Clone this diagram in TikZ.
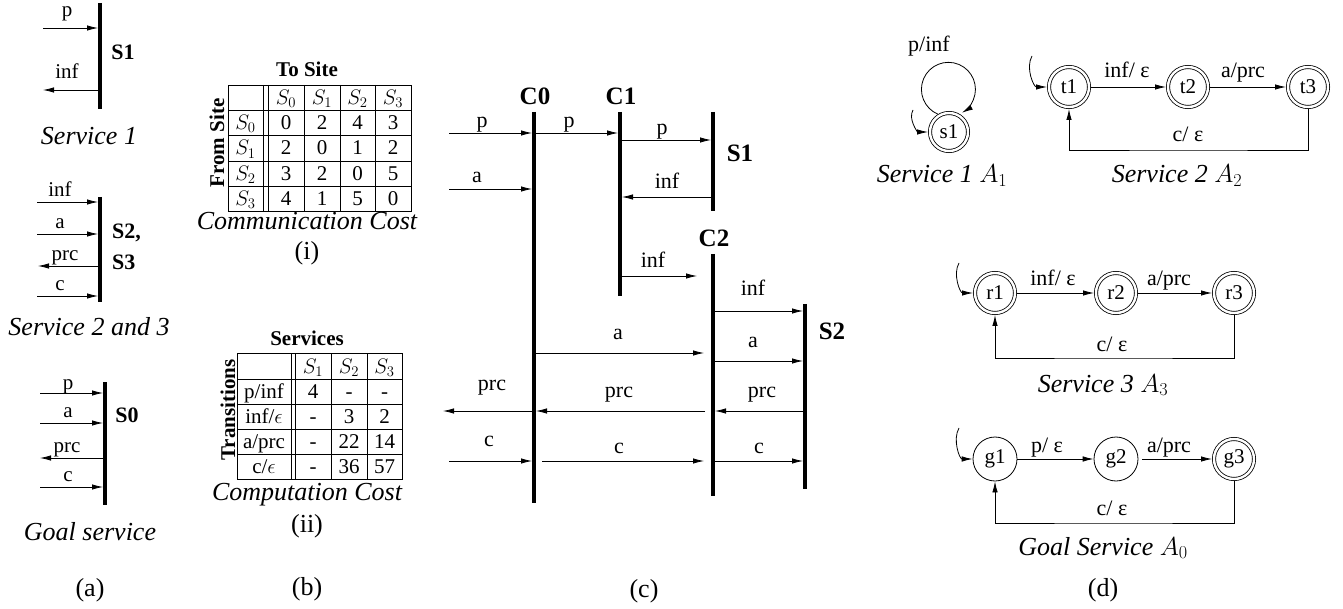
\RequirePackage{fix-cm}
\documentclass[tikz,border=0pt]{standalone}
\usepackage{fontspec}
\setmainfont{Liberation Serif}
\usetikzlibrary{arrows.meta}
\begin{document}
\begin{tikzpicture}[x=1pt,y=1pt,
 arr/.style={-{Latex[length=11pt,width=5.5pt]}, line width=0.8pt},
 tobar/.style={shorten >=2pt},
 vbar/.style={line width=4pt},
 tline/.style={line width=0.8pt},
 lab/.style={font=\fontsize{21}{24}\selectfont, inner sep=0pt, anchor=base},
 clab/.style={font=\fontsize{22}{26}\selectfont, inner sep=0pt, anchor=base},
 ablab/.style={font=\bfseries\fontsize{22}{26}\selectfont, inner sep=0pt, anchor=base},
 blab/.style={font=\bfseries\fontsize{25}{29}\selectfont, inner sep=0pt, anchor=base},
 capt/.style={font=\itshape\fontsize{26}{30}\selectfont, inner sep=0pt, anchor=base},
 sublab/.style={font=\fontsize{26}{30}\selectfont, inner sep=0pt, anchor=base},
 tcell/.style={font=\fontsize{21}{24}\selectfont, inner sep=0pt, text height=16pt, text depth=2pt},
 thead/.style={font=\bfseries\fontsize{21}{24}\selectfont, inner sep=0pt},
 st/.style={circle, draw, line width=0.8pt, minimum size=44pt, inner sep=0pt, font=\fontsize{21}{24}\selectfont},
 acc/.style={st, double, double distance=2.4pt, minimum size=40pt, outer sep=2pt},
]
\useasboundingbox (0,0) rectangle (1343,-609);

% ---------------- (a) ----------------
\coordinate (a1t) at (100,-3); \coordinate (a1b) at (100,-109);
\draw[vbar] (a1t) -- (a1b);
\coordinate (a1p) at (43,-28); \coordinate (a1i) at (43,-90);
\draw[arr,tobar] (a1p) -- (a1p -| a1t);
\draw[arr] (a1i -| a1t) -- (a1i);
\node[lab] (a1pl) at (67,-17) {p};
\node[lab] (a1il) at (67,-79) {inf};
\node[ablab] (a1n) at (123,-60) {S1};
\node[capt] (a1c) at (89,-145) {Service 1};

\coordinate (a2t) at (100,-197); \coordinate (a2b) at (100,-302);
\draw[vbar] (a2t) -- (a2b);
\coordinate (a2i) at (37,-202); \coordinate (a2a) at (37,-234);
\coordinate (a2p) at (38,-266); \coordinate (a2c) at (37,-296);
\draw[arr,tobar] (a2i) -- (a2i -| a2t);
\draw[arr,tobar] (a2a) -- (a2a -| a2t);
\draw[arr] (a2p -| a2t) -- (a2p);
\draw[arr,tobar] (a2c) -- (a2c -| a2t);
\node[lab] (a2il) at (60,-197) {inf};
\node[lab] (a2al) at (60,-229) {a};
\node[lab] (a2pl) at (65,-261) {prc};
\node[lab] (a2cl) at (60,-291) {c};
\node[ablab, anchor=base west] (a2n1) at (112,-239) {S2,};
\node[ablab, anchor=base west] (a2n2) at (112,-270) {S3};
\node[capt] (a2cap) at (89,-336) {Service 2 and 3};

\coordinate (a0t) at (105,-382); \coordinate (a0b) at (105,-505);
\draw[vbar] (a0t) -- (a0b);
\coordinate (a0p) at (40,-393); \coordinate (a0a) at (40,-423);
\coordinate (a0r) at (40,-458); \coordinate (a0c) at (40,-487);
\draw[arr,tobar] (a0p) -- (a0p -| a0t);
\draw[arr,tobar] (a0a) -- (a0a -| a0t);
\draw[arr] (a0r -| a0t) -- (a0r);
\draw[arr,tobar] (a0c) -- (a0c -| a0t);
\node[lab] (a0pl) at (68,-389) {p};
\node[lab] (a0al) at (68,-417) {a};
\node[lab] (a0rl) at (67,-452) {prc};
\node[lab] (a0cl) at (68,-481) {c};
\node[ablab] (a0n) at (127,-422) {S0};
\node[capt] (a0cap) at (90,-540) {Goal service};
\node[sublab] (alab) at (90,-596) {(a)};

% ---------------- (b) ----------------
% communication cost table
\draw[tline] (228,-85) rectangle (411,-211);
\foreach \yy in {110,135,161,186} \draw[tline] (228,-\yy) -- (411,-\yy);
\foreach \xx in {263,268,304,340,375} \draw[tline] (\xx,-85) -- (\xx,-211);
\node[tcell] (h1) at (286,-97.5) {$S_0$};
\node[tcell] (h2) at (322,-97.5) {$S_1$};
\node[tcell] (h3) at (357.5,-97.5) {$S_2$};
\node[tcell] (h4) at (393,-97.5) {$S_3$};
\node[tcell] (r1l) at (245.5,-122.5) {$S_0$};
\node[tcell] (r2l) at (245.5,-148) {$S_1$};
\node[tcell] (r3l) at (245.5,-173.5) {$S_2$};
\node[tcell] (r4l) at (245.5,-198.5) {$S_3$};
\foreach \vals [count=\r] in {{0,2,4,3},{2,0,1,2},{3,2,0,5},{4,1,5,0}} {
  \foreach \v [count=\c] in \vals {
    \pgfmathsetmacro{\cx}{{250.5,286,322,357.5,393}[\c]}
    \pgfmathsetmacro{\cy}{{97.5,122.5,148,173.5,198.5}[\r]}
    \node[tcell] (cc\r\c) at (\cx,-\cy) {\v};
  }
}
\node[thead, anchor=base] (tosite) at (307,-77) {To Site};
\node[thead, rotate=90] (fromsite) at (217,-143) {From Site};
\node[capt] (commcap) at (307,-230) {Communication Cost};
\node[sublab] (ilab) at (307,-260) {(i)};

% computation cost table
\draw[tline] (237,-353) rectangle (402,-479);
\foreach \yy in {379,404,429,454} \draw[tline] (237,-\yy) -- (402,-\yy);
\foreach \xx in {291,295,331,367} \draw[tline] (\xx,-353) -- (\xx,-479);
\node[tcell] (k1) at (313,-366) {$S_1$};
\node[tcell] (k2) at (349,-366) {$S_2$};
\node[tcell] (k3) at (384.5,-366) {$S_3$};
\node[tcell] (t1l) at (264,-391.5) {p/inf};
\node[tcell] (t2l) at (264,-416.5) {inf/$\epsilon$};
\node[tcell] (t3l) at (264,-441.5) {a/prc};
\node[tcell] (t4l) at (264,-466.5) {c/$\epsilon$};
\foreach \vals [count=\r] in {{4,-,-},{-,3,2},{-,22,14},{-,36,57}} {
  \foreach \v [count=\c] in \vals {
    \pgfmathsetmacro{\cx}{{0,313,349,384.5}[\c]}
    \pgfmathsetmacro{\cy}{{0,391.5,416.5,441.5,466.5}[\r]}
    \node[tcell] (kc\r\c) at (\cx,-\cy) {\v};
  }
}
\node[thead, anchor=base] (services) at (307,-345) {Services};
\node[thead, rotate=90] (transitions) at (228,-410) {Transitions};
\node[capt] (compcap) at (307,-500) {Computation Cost};
\node[sublab] (iilab) at (307,-532) {(ii)};
\node[sublab] (blab) at (307,-595) {(b)};

% ---------------- (c) ----------------
\coordinate (C0t) at (534,-112); \coordinate (C0b) at (534,-503);
\coordinate (C1t) at (620,-112); \coordinate (C1b) at (620,-296);
\coordinate (S1t) at (713,-112); \coordinate (S1b) at (713,-211);
\coordinate (C2t) at (713,-254); \coordinate (C2b) at (713,-496);
\coordinate (S2t) at (805,-304); \coordinate (S2b) at (805,-489);
\draw[vbar] (C0t) -- (C0b);
\draw[vbar] (C1t) -- (C1b);
\draw[vbar] (S1t) -- (S1b);
\draw[vbar] (C2t) -- (C2b);
\draw[vbar] (S2t) -- (S2b);
\node[blab] (C0) at (535,-105) {C0};
\node[blab] (C1) at (621,-105) {C1};
\node[blab] (S1) at (740,-162) {S1};
\node[blab] (C2) at (714,-247) {C2};
\node[blab] (S2) at (832,-340) {S2};

\coordinate (m1) at (449,-133);
\coordinate (m2) at (534,-140);
\coordinate (m4) at (449,-189);
\coordinate (m5) at (713,-197);
\coordinate (m6) at (697,-276);
\coordinate (m7) at (713,-311);
\coordinate (m8) at (704,-353);
\coordinate (m9) at (713,-361);
\coordinate (m10) at (805,-411);
\coordinate (m11) at (705,-411);
\coordinate (m12) at (443,-411);
\coordinate (m13) at (449,-461);
\coordinate (m14s) at (542,-461);
\coordinate (m14e) at (704,-461);

\draw[arr,tobar] (m1) -- (m1 -| C0t);
\draw[arr,tobar] (m1 -| C0t) -- (m1 -| C1t);
\draw[arr,tobar] (m2 -| C1t) -- (m2 -| S1t);
\draw[arr,tobar] (m4) -- (m4 -| C0t);
\draw[arr,tobar] (m5) -- (m5 -| C1t);
\draw[arr] (m6 -| C1t) -- (m6);
\draw[arr,tobar] (m7) -- (m7 -| S2t);
\draw[arr] (m8 -| C0t) -- (m8);
\draw[arr,tobar] (m9) -- (m9 -| S2t);
\draw[arr,tobar] (m10) -- (m10 -| C2t);
\draw[arr,tobar] (m11) -- (m11 -| C0t);
\draw[arr] (m11 -| C0t) -- (m12);
\draw[arr,tobar] (m13) -- (m13 -| C0t);
\draw[arr] (m14s) -- (m14e);
\draw[arr,tobar] (m14e -| C2t) -- (m14e -| S2t);

\node[clab] (l1) at (482,-128) {p};
\node[clab] (l2) at (569,-128) {p};
\node[clab] (l3) at (662,-135) {p};
\node[clab] (l4) at (477,-183) {a};
\node[clab] (l5) at (667,-189) {inf};
\node[clab] (l6) at (653,-268) {inf};
\node[clab] (l7) at (753,-296) {inf};
\node[clab] (l8) at (618,-339) {a};
\node[clab] (l9) at (753,-347) {a};
\node[clab] (l10) at (762,-397) {prc};
\node[clab] (l11) at (619,-397) {prc};
\node[clab] (l12) at (492,-390) {prc};
\node[clab] (l13) at (489,-446) {c};
\node[clab] (l14) at (619,-453) {c};
\node[clab] (l15) at (759,-453) {c};
\node[sublab] (clabel) at (644,-597) {(c)};

% ---------------- (d) ----------------
\node[acc, minimum size=38pt] (s1) at (949,-132) {s1};
\node[acc] (t1) at (1069,-87) {t1};
\node[acc] (t2) at (1188,-87) {t2};
\node[acc] (t3) at (1308,-87) {t3};
\node[acc] (q1) at (995,-293) {r1};
\node[acc] (q2) at (1116,-293) {r2};
\node[acc] (q3) at (1234,-293) {r3};
\node[st] (g1) at (995,-459) {g1};
\node[st] (g2) at (1116,-459) {g2};
\node[acc] (g3) at (1234,-459) {g3};

\coordinate (s1i) at (913,-110);
\coordinate (t1i) at (1032,-56);
\coordinate (q1i) at (959,-263);
\coordinate (g1i) at (959,-428);
\draw[arr] (s1i) to[out=240, in=180] (s1.west);
\draw[arr] (t1i) to[out=240, in=180] (t1.west);
\draw[arr] (q1i) to[out=240, in=180] (q1.west);
\draw[arr] (g1i) to[out=240, in=180] (g1.west);

\draw[arr] (s1.122) arc[start angle=247, end angle=-60, radius=27];
\node[clab] (s1l) at (929,-52) {p/inf};
\node[capt] (s1cap) at (942,-183) {Service 1 $A_1$};

\coordinate (fbt) at (1188,-150);
\draw[arr] (t1) -- (t2);
\draw[arr] (t2) -- (t3);
\draw[arr] (t3.south) |- (fbt) -| (t1.south);
\node[clab] (tl1) at (1127,-78) {inf/ ε};
\node[clab] (tl2) at (1243,-78) {a/prc};
\node[clab] (tl3) at (1188,-142) {c/ ε};
\node[capt] (tcap) at (1177,-183) {Service 2 $A_2$};

\coordinate (fbq) at (1112,-358);
\draw[arr] (q1) -- (q2);
\draw[arr] (q2) -- (q3);
\draw[arr] (q3.south) |- (fbq) -| (q1.south);
\node[clab] (ql1) at (1053,-286) {inf/ ε};
\node[clab] (ql2) at (1169,-286) {a/prc};
\node[clab] (ql3) at (1112,-352) {c/ ε};
\node[capt] (qcap) at (1103,-392) {Service 3 $A_3$};

\coordinate (fbg) at (1112,-523);
\draw[arr] (g1) -- (g2);
\draw[arr] ([xshift=4pt]g2.east) -- (g3);
\draw[arr] (g3.south) |- (fbg) -| (g1.south);
\node[clab] (gl1) at (1047,-452) {p/ ε};
\node[clab] (gl2) at (1169,-452) {a/prc};
\node[clab] (gl3) at (1112,-515) {c/ ε};
\node[capt] (gcap) at (1103,-555) {Goal Service $A_0$};
\node[sublab] (dlab) at (1103,-596) {(d)};
\end{tikzpicture}
\end{document}
